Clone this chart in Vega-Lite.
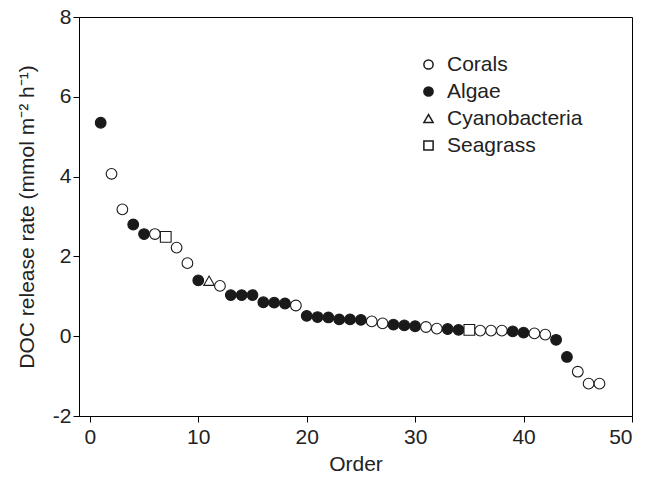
{
  "$schema": "https://vega.github.io/schema/vega-lite/v6.json",
  "autosize": "none",
  "padding": {"left": 79, "top": 17, "right": 13, "bottom": 70},
  "width": 553,
  "height": 399,
  "background": "white",
  "config": {
    "font": "Liberation Sans",
    "view": {"stroke": "black", "strokeWidth": 1},
    "axis": {
      "grid": false,
      "domainColor": "black",
      "tickColor": "black",
      "tickSize": 6,
      "labelColor": "#222",
      "titleColor": "#222",
      "labelFontSize": 21,
      "titleFontSize": 21,
      "titleFontWeight": "normal",
      "labelFont": "Liberation Sans",
      "titleFont": "Liberation Sans"
    }
  },
  "data": {
    "values": [
      {"order": 1, "rate": 5.35, "group": "Algae"},
      {"order": 2, "rate": 4.07, "group": "Corals"},
      {"order": 3, "rate": 3.18, "group": "Corals"},
      {"order": 4, "rate": 2.80, "group": "Algae"},
      {"order": 5, "rate": 2.56, "group": "Algae"},
      {"order": 6, "rate": 2.56, "group": "Corals"},
      {"order": 7, "rate": 2.49, "group": "Seagrass"},
      {"order": 8, "rate": 2.22, "group": "Corals"},
      {"order": 9, "rate": 1.83, "group": "Corals"},
      {"order": 10, "rate": 1.40, "group": "Algae"},
      {"order": 11, "rate": 1.39, "group": "Cyanobacteria"},
      {"order": 12, "rate": 1.26, "group": "Corals"},
      {"order": 13, "rate": 1.03, "group": "Algae"},
      {"order": 14, "rate": 1.03, "group": "Algae"},
      {"order": 15, "rate": 1.03, "group": "Algae"},
      {"order": 16, "rate": 0.85, "group": "Algae"},
      {"order": 17, "rate": 0.84, "group": "Algae"},
      {"order": 18, "rate": 0.82, "group": "Algae"},
      {"order": 19, "rate": 0.77, "group": "Corals"},
      {"order": 20, "rate": 0.51, "group": "Algae"},
      {"order": 21, "rate": 0.48, "group": "Algae"},
      {"order": 22, "rate": 0.47, "group": "Algae"},
      {"order": 23, "rate": 0.42, "group": "Algae"},
      {"order": 24, "rate": 0.42, "group": "Algae"},
      {"order": 25, "rate": 0.41, "group": "Algae"},
      {"order": 26, "rate": 0.37, "group": "Corals"},
      {"order": 27, "rate": 0.32, "group": "Corals"},
      {"order": 28, "rate": 0.29, "group": "Algae"},
      {"order": 29, "rate": 0.27, "group": "Algae"},
      {"order": 30, "rate": 0.25, "group": "Algae"},
      {"order": 31, "rate": 0.23, "group": "Corals"},
      {"order": 32, "rate": 0.19, "group": "Corals"},
      {"order": 33, "rate": 0.18, "group": "Algae"},
      {"order": 34, "rate": 0.16, "group": "Algae"},
      {"order": 35, "rate": 0.16, "group": "Seagrass"},
      {"order": 36, "rate": 0.14, "group": "Corals"},
      {"order": 37, "rate": 0.14, "group": "Corals"},
      {"order": 38, "rate": 0.14, "group": "Corals"},
      {"order": 39, "rate": 0.12, "group": "Algae"},
      {"order": 40, "rate": 0.09, "group": "Algae"},
      {"order": 41, "rate": 0.07, "group": "Corals"},
      {"order": 42, "rate": 0.04, "group": "Corals"},
      {"order": 43, "rate": -0.09, "group": "Algae"},
      {"order": 44, "rate": -0.52, "group": "Algae"},
      {"order": 45, "rate": -0.89, "group": "Corals"},
      {"order": 46, "rate": -1.19, "group": "Corals"},
      {"order": 47, "rate": -1.19, "group": "Corals"}
    ]
  },
  "mark": {"type": "point", "filled": true, "size": 115, "stroke": "#1a1a1a", "strokeWidth": 1.1, "opacity": 1},
  "encoding": {
    "x": {
      "field": "order", "type": "quantitative",
      "scale": {"domain": [-1, 50], "nice": false, "zero": false},
      "axis": {"values": [0, 10, 20, 30, 40, 50], "title": "Order", "labelPadding": 4, "titlePadding": 6, "domain": true}
    },
    "y": {
      "field": "rate", "type": "quantitative",
      "scale": {"domain": [-2, 8], "nice": false},
      "axis": {"values": [-2, 0, 2, 4, 6, 8], "title": "DOC release rate (mmol m⁻² h⁻¹)", "labelPadding": 2, "titlePadding": 15,
        "labelExpr": "datum.value < 0 ? '-' + abs(datum.value) : '' + datum.value"}
    },
    "shape": {
      "field": "group", "type": "nominal",
      "scale": {"domain": ["Corals", "Algae", "Cyanobacteria", "Seagrass"], "range": ["circle", "circle", "triangle-up", "square"]},
      "legend": {
        "title": null, "orient": "none", "legendX": 339, "legendY": 37,
        "labelFontSize": 21, "labelFont": "Liberation Sans", "labelColor": "#222",
        "symbolSize": 85,
        "labelOffset": 8, "rowPadding": 5, "padding": 0,
        "encode": {"symbols": {"update": {"stroke": {"value": "#1a1a1a"}, "strokeWidth": {"value": 1}, "opacity": {"value": 1}}}}
      }
    },
    "fill": {
      "field": "group", "type": "nominal",
      "scale": {"domain": ["Corals", "Algae", "Cyanobacteria", "Seagrass"], "range": ["white", "#1a1a1a", "white", "white"]},
      "legend": {
        "title": null, "orient": "none", "legendX": 339, "legendY": 37,
        "labelFontSize": 21, "labelFont": "Liberation Sans", "labelColor": "#222",
        "symbolSize": 85,
        "labelOffset": 8, "rowPadding": 5, "padding": 0,
        "encode": {"symbols": {"update": {"stroke": {"value": "#1a1a1a"}, "strokeWidth": {"value": 1}, "opacity": {"value": 1}}}}
      }
    }
  }
}
